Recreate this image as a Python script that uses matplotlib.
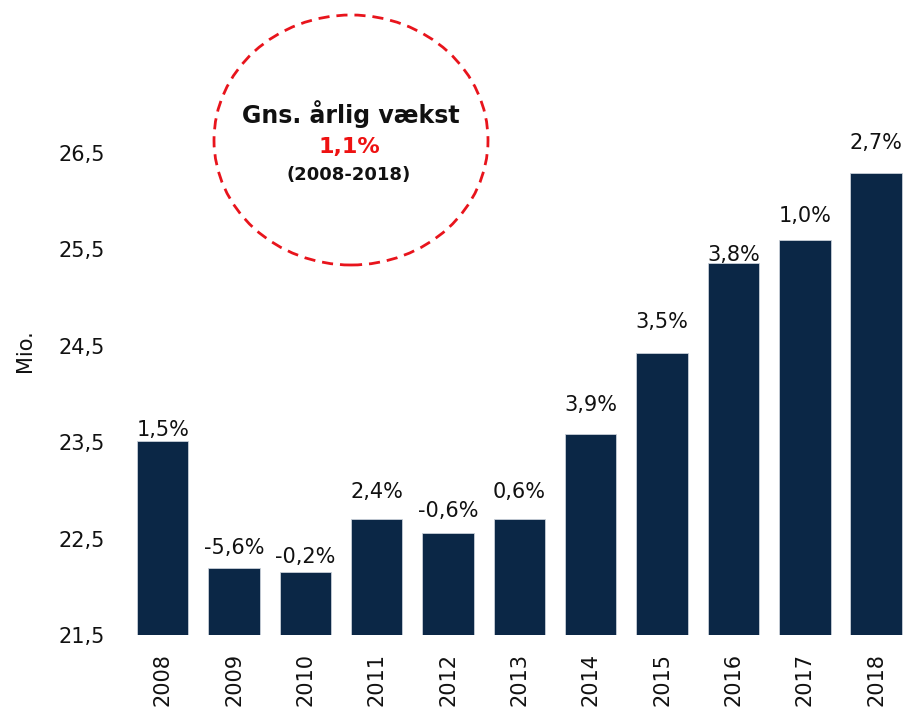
import matplotlib
matplotlib.use('Agg')
import matplotlib.pyplot as plt
from matplotlib.patches import Ellipse
from matplotlib.ticker import FuncFormatter

years = ['2008', '2009', '2010', '2011', '2012', '2013', '2014', '2015', '2016', '2017', '2018']
values = [23.51, 22.20, 22.15, 22.70, 22.56, 22.70, 23.59, 24.43, 25.36, 25.60, 26.29]
growth = ['1,5%', '-5,6%', '-0,2%', '2,4%', '-0,6%', '0,6%', '3,9%', '3,5%', '3,8%', '1,0%', '2,7%']
yticks = [21.5, 22.5, 23.5, 24.5, 25.5, 26.5]

# label offsets above bar top (pixels), as placed in the original
label_off = [11, 20, 15, 27, 22, 27, 29, 31, 8, 24, 30]

barcol = '#0b2746'
W, H = 904, 713
dpi = 100
px_per_unit = 96.4

plt.rcParams['font.family'] = ['DejaVu Sans']

fig = plt.figure(figsize=(W/dpi, H/dpi), dpi=dpi)
left, right = 127, 904
bottom, top = 635, 10
ax = fig.add_axes([left/W, (H-bottom)/H, (right-left)/W, (bottom-top)/H])

x = list(range(len(years)))
ax.bar(x, values, width=0.72, color=barcol, edgecolor='#c9d0d8', linewidth=0.6)
ax.set_xlim(-0.5, -0.5 + (right-left)/71.35)
ax.set_ylim(21.5, 21.5 + (bottom-top)/px_per_unit)

for i, (v, g) in enumerate(zip(values, growth)):
    ax.annotate(g, (i, v), xytext=(0, label_off[i]), textcoords='offset pixels',
                ha='center', va='center', fontsize=15, color='#111111')

ax.set_yticks(yticks)
ax.yaxis.set_major_formatter(FuncFormatter(lambda v, p: ('%.1f' % v).replace('.', ',')))
ax.set_xticks(x)
ax.set_xticklabels(years, rotation=90)
ax.tick_params(axis='both', length=0, labelsize=15, colors='#111111')
ax.tick_params(axis='y', pad=16)
ax.tick_params(axis='x', pad=13)
for s in ax.spines.values():
    s.set_visible(False)

fig.text(25/W, 1 - 351/H, 'Mio.', rotation=90, ha='center', va='center', fontsize=15, color='#111111')

# dashed circle with average growth
circ = Ellipse((351/W, 1 - 140/H), 274/W, 250/H, transform=fig.transFigure,
               fill=False, edgecolor='#e8141c', linestyle=(0, (4, 2.5)), linewidth=2)
fig.add_artist(circ)
fig.text(351/W, 1 - 114/H, 'Gns. årlig vækst', ha='center', va='center',
         fontsize=17, fontweight='bold', color='#111111')
fig.text(349/W, 1 - 147/H, '1,1%', ha='center', va='center',
         fontsize=16, fontweight='bold', color='#ee1111')
fig.text(349/W, 1 - 175/H, '(2008-2018)', ha='center', va='center',
         fontsize=13, fontweight='bold', color='#111111')

fig.savefig('out.png', dpi=dpi)
